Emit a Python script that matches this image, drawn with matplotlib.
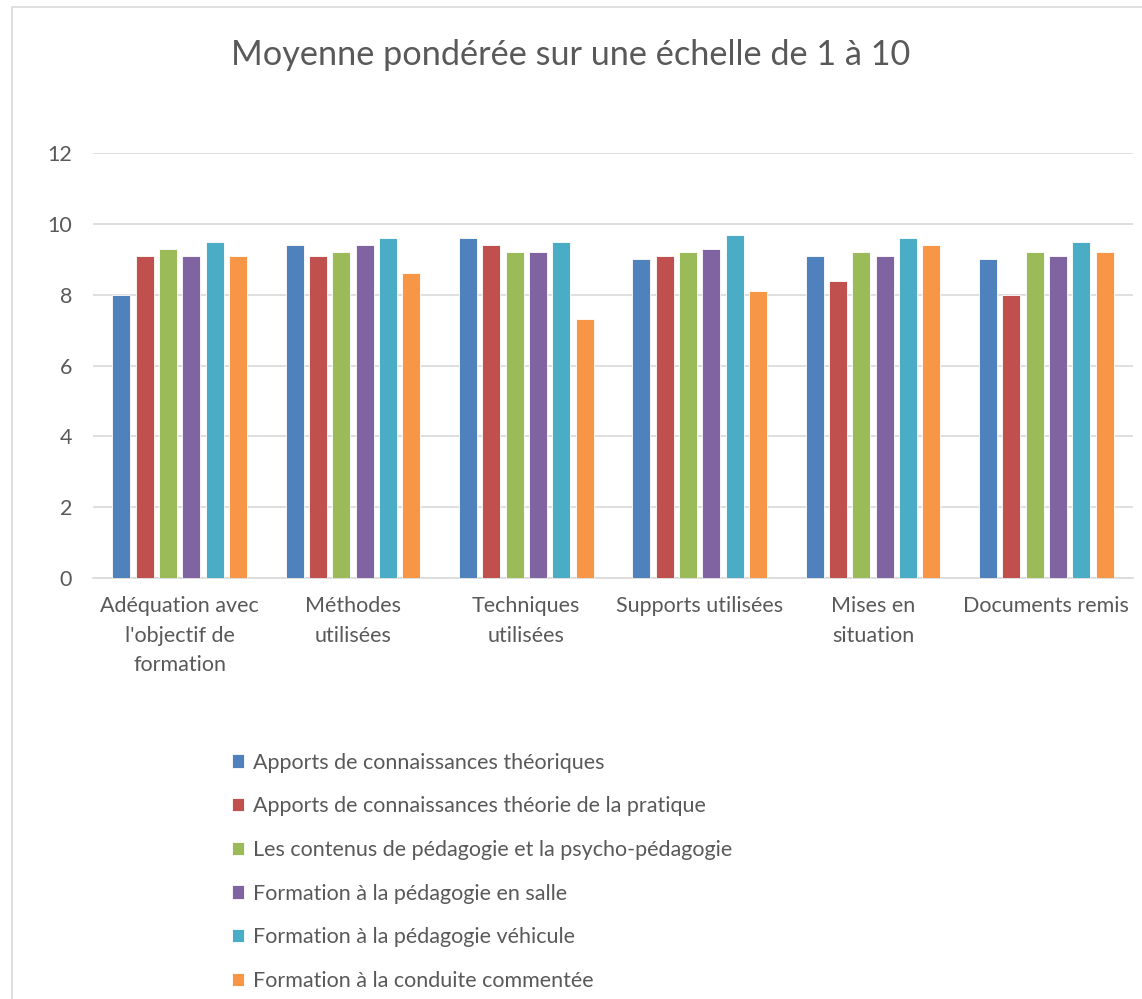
import numpy as np
import matplotlib.pyplot as plt
import matplotlib.patches as patches

categories = ["Adéquation avec\nl'objectif de\nformation", "Méthodes\nutilisées", "Techniques\nutilisées",
              "Supports utilisées", "Mises en\nsituation", "Documents remis"]
series_names = ["Apports de connaissances théoriques",
                "Apports de connaissances théorie de la pratique",
                "Les contenus de pédagogie et la psycho-pédagogie",
                "Formation à la pédagogie en salle",
                "Formation à la pédagogie véhicule",
                "Formation à la conduite commentée"]
theoriques = [8.0, 9.4, 9.6, 9.0, 9.1, 9.0]
theorie_pratique = [9.1, 9.1, 9.4, 9.1, 8.4, 8.0]
contenus = [9.3, 9.2, 9.2, 9.2, 9.2, 9.2]
salle = [9.1, 9.4, 9.2, 9.3, 9.1, 9.1]
vehicule = [9.5, 9.6, 9.5, 9.7, 9.6, 9.5]
conduite = [9.1, 8.6, 7.3, 8.1, 9.4, 9.2]
series = [theoriques, theorie_pratique, contenus, salle, vehicule, conduite]
colors = ['#4F81BD', '#C0504D', '#9BBB59', '#8064A2', '#4BACC6', '#F79646']

plt.rcParams['font.family'] = ['Lato', 'DejaVu Sans']
text_color = '#595959'
fs = 15.5

fig = plt.figure(figsize=(11.42, 9.99), dpi=100)
ax = fig.add_axes([0.0814, 0.4214, 0.9107, 0.4254])

# chart border
fig.patches.append(patches.Rectangle((12 / 1142, -0.01), 1.0, 1 - 7 / 999 + 0.01, transform=fig.transFigure,
                                     fill=False, edgecolor='#D9D9D9', lw=1.2))

x = np.arange(len(categories))
pitch = 0.1346
width = 0.104
for i, (vals, col, name) in enumerate(zip(series, colors, series_names)):
    ax.bar(x + (i - 2.5) * pitch, vals, width, color=col, label=name, zorder=3,
           edgecolor='white', linewidth=0.6)

ax.set_xlim(-0.5, len(categories) - 0.5)
ax.set_ylim(0, 12)
ax.set_yticks(range(0, 13, 2))
ax.set_xticks(x)
ax.set_xticklabels(categories, fontsize=fs, color=text_color, linespacing=1.6)
ax.tick_params(axis='y', length=0, pad=15, labelsize=fs, labelcolor=text_color)
ax.tick_params(axis='x', length=0, pad=13)
ax.grid(axis='y', color='#D9D9D9', lw=1.2, zorder=0)
for s in ['top', 'right', 'left']:
    ax.spines[s].set_visible(False)
ax.spines['bottom'].set_color('#D9D9D9')
ax.spines['bottom'].set_linewidth(1.2)

fig.text(0.5, 1 - 55 / 999, 'Moyenne pondérée sur une échelle de 1 à 10', ha='center', va='center',
         fontsize=24.7, color=text_color)

fig.legend(loc='upper left', bbox_to_anchor=(223 / 1142, 1 - 744 / 999), frameon=False, fontsize=fs,
           labelcolor=text_color, handlelength=0.58, handleheight=0.58, handletextpad=0.4,
           labelspacing=1.1, borderaxespad=0)

plt.savefig('out.png', dpi=100)
